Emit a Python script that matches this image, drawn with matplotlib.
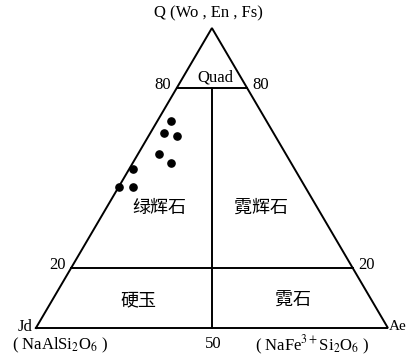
import numpy as np
import matplotlib.pyplot as plt

plt.rcParams['font.family'] = ['Liberation Serif', 'Noto Sans CJK SC']
plt.rcParams['mathtext.fontset'] = 'stix'

# Q - Jd - Ae compositions of the analysed pyroxenes (%)
q_vals = [69, 65, 64, 58, 55, 53, 47, 47]
jd_vals = [27, 31, 28, 36, 34, 46, 53, 49]
ae_vals = [4, 4, 8, 6, 11, 1, 0, 4]

field_names = ['绿辉石', '霓辉石', '硬玉', '霓石']
field_pos = [(40, 45, 15), (40, 16, 44), (9, 66.5, 24.5), (9, 22.5, 68.5)]  # (Q, Jd, Ae) of label centres


def tern(q, jd, ae):
    q, jd, ae = np.asarray(q, float), np.asarray(jd, float), np.asarray(ae, float)
    s = q + jd + ae
    x = 100 * (ae + q / 2) / s
    y = 100 * q * np.sqrt(3) / 2 / s
    return x, y


fig = plt.figure(figsize=(4.08, 3.58), dpi=100)
ax = fig.add_axes([0, 0, 1, 1])
ax.set_xlim(-10.2, 105.7)
ax.set_ylim(-8.66, 94.7)
ax.axis('off')

lw = 1.4
# outer triangle
x, y = tern([0, 0, 100, 0], [100, 0, 0, 100], [0, 100, 0, 0])
ax.plot(x, y, color='black', lw=lw, solid_joinstyle='miter')

# Q = 80 and Q = 20 boundaries
for q in (80, 20):
    x, y = tern([q, q], [100 - q, 0], [0, 100 - q])
    ax.plot(x, y, color='black', lw=lw)

# Jd = Ae divide below Q = 80
x, y = tern([80, 0], [10, 50], [10, 50])
ax.plot(x, y, color='black', lw=lw)

# sample points
x, y = tern(q_vals, jd_vals, ae_vals)
ax.plot(x, y, 'o', color='black', ms=5.2)

# labels
fs = 12
x, y = tern(80, 10, 10)
ax.text(x + 1, y + 0.8, 'Quad', ha='center', va='bottom', fontsize=fs)
for name, (q, jd, ae) in zip(field_names, field_pos):
    x, y = tern(q, jd, ae)
    ax.text(x, y, name, ha='center', va='center', fontsize=13)

for q in (80, 20):
    x, y = tern(q, 100 - q, 0)
    ax.text(x - 1.5, y + 1.0, str(q), ha='right', va='center', fontsize=fs)
    x, y = tern(q, 0, 100 - q)
    ax.text(x + 1.5, y + 1.0, str(q), ha='left', va='center', fontsize=fs)

x, y = tern(100, 0, 0)
ax.text(x - 1.0, y + 4.2, 'Q (Wo , En , Fs)', ha='center', va='center', fontsize=fs)
x, y = tern(0, 100, 0)
ax.text(x - 1.0, y + 0.3, 'Jd', ha='right', va='center', fontsize=fs)
ax.text(x + 7.0, y - 5.0, '( NaAlSi$_2$O$_6$ )', ha='center', va='center', fontsize=fs)
x, y = tern(0, 0, 100)
ax.text(x + 0.4, y + 0.3, 'Ae', ha='left', va='center', fontsize=11)
ax.text(x - 21.5, y - 5.0, '( NaFe$^{3+}$Si$_2$O$_6$ )', ha='center', va='center', fontsize=fs)
x, y = tern(0, 50, 50)
ax.text(x + 0.5, y - 4.5, '50', ha='center', va='center', fontsize=fs)

fig.savefig('out.png', dpi=100)
